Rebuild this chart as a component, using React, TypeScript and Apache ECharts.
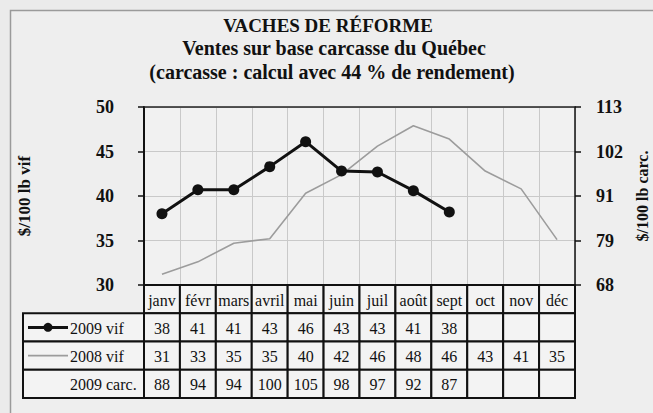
import React, { useEffect, useRef } from "react";
import * as echarts from "echarts";

const months = ["janv", "févr", "mars", "avril", "mai", "juin", "juil", "août", "sept", "oct", "nov", "déc"];
const vif2009 = [38.0, 40.7, 40.7, 43.3, 46.1, 42.8, 42.7, 40.6, 38.2];
const vif2008 = [31.2, 32.6, 34.7, 35.2, 40.3, 42.4, 45.6, 47.9, 46.4, 42.8, 40.8, 35.1];
const table2009vif = ["38", "41", "41", "43", "46", "43", "43", "41", "38"];
const table2008vif = ["31", "33", "35", "35", "40", "42", "46", "48", "46", "43", "41", "35"];
const table2009carc = ["88", "94", "94", "100", "105", "98", "97", "92", "87"];
const rowNames = ["", "2009 vif", "2008 vif", "2009 carc."];
const leftMin = 30;
const leftMax = 50;
const leftStep = 5;
const carcMin = 68;
const carcMax = 113;

const SERIF = "'Liberation Serif', 'Times New Roman', serif";

export default function App() {
  const ref = useRef<HTMLDivElement>(null);
  useEffect(() => {
    if (!ref.current) return;
    const chart = echarts.init(ref.current, null, { renderer: "svg" });

    const rows = [months, table2009vif, table2008vif, table2009carc];
    const cells: { i: number; r: number; t: string }[] = [];
    rows.forEach((row, r) => {
      for (let i = 0; i < months.length; i++) {
        cells.push({ i, r, t: row[i] ?? "" });
      }
    });

    const toCarc = (v: number) => Math.round(carcMin + ((v - leftMin) * (carcMax - carcMin)) / (leftMax - leftMin));

    const option: any = {
      animation: false,
      backgroundColor: "#ebebeb",
      graphic: [
        {
          type: "rect",
          shape: { x: 10.5, y: 10.5, width: 700, height: 500 },
          style: { fill: "#eeeeee", stroke: "#9a9a9a", lineWidth: 1.5 },
          z: -10,
        },
        {
          type: "text",
          x: 328,
          y: 25,
          style: { text: "VACHES DE RÉFORME", font: `bold 19px ${SERIF}`, fill: "#111", align: "center", verticalAlign: "middle" },
        },
        {
          type: "text",
          x: 334,
          y: 48,
          style: { text: "Ventes sur base carcasse du Québec", font: `bold 20px ${SERIF}`, fill: "#111", align: "center", verticalAlign: "middle" },
        },
        {
          type: "text",
          x: 332,
          y: 72,
          style: { text: "(carcasse : calcul avec 44 % de rendement)", font: `bold 20px ${SERIF}`, fill: "#111", align: "center", verticalAlign: "middle" },
        },
      ],
      grid: [
        { left: 144, top: 107, width: 431, height: 178, show: true, backgroundColor: "#f1f1f1", borderWidth: 0, outerBoundsMode: "none", containLabel: false },
        { left: 144, top: 285, width: 431, height: 113, show: false, outerBoundsMode: "none", containLabel: false },
      ],
      xAxis: [
        {
          type: "category",
          gridIndex: 0,
          data: months,
          boundaryGap: true,
          axisLine: { lineStyle: { color: "#111", width: 2 } },
          axisTick: { show: false },
          axisLabel: { show: false },
          splitLine: { show: true, lineStyle: { color: "#c9c9c9", width: 1 } },
        },
        {
          type: "category",
          gridIndex: 1,
          data: months,
          boundaryGap: true,
          axisLine: { show: false },
          axisTick: { show: false },
          axisLabel: { show: false },
          splitLine: { show: false },
        },
        {
          type: "category",
          gridIndex: 0,
          position: "top",
          data: months,
          axisLine: { lineStyle: { color: "#222", width: 1.5 } },
          axisTick: { show: false },
          axisLabel: { show: false },
          splitLine: { show: false },
        },
      ],
      yAxis: [
        {
          type: "value",
          gridIndex: 0,
          position: "left",
          min: leftMin,
          max: leftMax,
          interval: leftStep,
          axisLine: { show: true, lineStyle: { color: "#111", width: 2 } },
          axisTick: { show: true, inside: false, length: 6, lineStyle: { color: "#111", width: 1.5 } },
          axisLabel: { margin: 30, color: "#111", fontFamily: SERIF, fontWeight: "bold", fontSize: 18 },
          splitLine: { show: true, lineStyle: { color: "#c9c9c9", width: 1 } },
          name: "$/100 lb vif",
          nameLocation: "middle",
          nameRotate: 90,
          nameGap: 111,
          nameTextStyle: { color: "#111", fontFamily: SERIF, fontWeight: "bold", fontSize: 17 },
        },
        {
          type: "value",
          gridIndex: 0,
          position: "right",
          min: leftMin,
          max: leftMax,
          interval: leftStep,
          axisLine: { show: true, lineStyle: { color: "#111", width: 1.5 } },
          axisTick: { show: true, inside: false, length: 6, lineStyle: { color: "#111", width: 1.5 } },
          axisLabel: {
            margin: 21,
            color: "#111",
            fontFamily: SERIF,
            fontWeight: "bold",
            fontSize: 18,
            formatter: (v: number) => String(toCarc(v)),
          },
          splitLine: { show: false },
          name: "$/100 lb carc.",
          nameLocation: "middle",
          nameRotate: 90,
          nameGap: 59,
          nameTextStyle: { color: "#111", fontFamily: SERIF, fontWeight: "bold", fontSize: 16 },
        },
        {
          type: "category",
          gridIndex: 1,
          data: rowNames,
          inverse: true,
          axisLine: { show: false },
          axisTick: { show: false },
          axisLabel: { show: false },
          splitLine: { show: false },
        },
      ],
      series: [
        {
          name: "2008 vif",
          type: "line",
          xAxisIndex: 0,
          yAxisIndex: 0,
          data: vif2008,
          symbol: "none",
          lineStyle: { color: "#9c9c9c", width: 1.6 },
          z: 3,
        },
        {
          name: "2009 vif",
          type: "line",
          xAxisIndex: 0,
          yAxisIndex: 0,
          data: vif2009,
          symbol: "circle",
          symbolSize: 11,
          itemStyle: { color: "#111" },
          lineStyle: { color: "#111", width: 3 },
          z: 4,
        },
        {
          name: "table",
          type: "custom",
          xAxisIndex: 1,
          yAxisIndex: 2,
          clip: false,
          data: cells.map((c) => [c.i, c.r]),
          encode: { x: 0, y: 1 },
          renderItem: (params: any, api: any) => {
            const i = api.value(0);
            const r = api.value(1);
            const c = api.coord([i, r]);
            const s = api.size([1, 1]);
            const cell = cells[params.dataIndex];
            return {
              type: "group",
              children: [
                {
                  type: "rect",
                  shape: { x: c[0] - s[0] / 2, y: c[1] - s[1] / 2, width: s[0], height: s[1] },
                  style: { fill: "#f3f3f3", stroke: "#111", lineWidth: 2 },
                },
                {
                  type: "text",
                  style: {
                    text: cell.t,
                    x: c[0],
                    y: c[1] + 1,
                    align: "center",
                    verticalAlign: "middle",
                    font: `16px ${SERIF}`,
                    fill: "#111",
                  },
                },
              ],
            };
          },
          z: 5,
        },
        {
          name: "rowheads",
          type: "custom",
          xAxisIndex: 1,
          yAxisIndex: 2,
          clip: false,
          data: [[0, 1], [0, 2], [0, 3]],
          encode: { x: 0, y: 1 },
          renderItem: (params: any, api: any) => {
            const r = api.value(1);
            const c = api.coord([0, r]);
            const s = api.size([1, 1]);
            const right = params.coordSys.x;
            const x0 = right - 121;
            const y0 = c[1] - s[1] / 2;
            const ym = c[1];
            const children: any[] = [
              {
                type: "rect",
                shape: { x: x0, y: y0, width: right - x0, height: s[1] },
                style: { fill: "#f3f3f3", stroke: "#111", lineWidth: 2 },
              },
            ];
            if (r === 1) {
              children.push({
                type: "line",
                shape: { x1: x0 + 5, y1: ym, x2: x0 + 45, y2: ym },
                style: { stroke: "#111", lineWidth: 3 },
              });
              children.push({
                type: "circle",
                shape: { cx: x0 + 25, cy: ym, r: 4.5 },
                style: { fill: "#111" },
              });
            } else if (r === 2) {
              children.push({
                type: "line",
                shape: { x1: x0 + 5, y1: ym, x2: x0 + 45, y2: ym },
                style: { stroke: "#9c9c9c", lineWidth: 1.6 },
              });
            }
            children.push({
              type: "text",
              style: {
                text: rowNames[r],
                x: x0 + 47,
                y: ym + 1,
                align: "left",
                verticalAlign: "middle",
                font: `16px ${SERIF}`,
                fill: "#111",
              },
            });
            return { type: "group", children };
          },
          z: 5,
        },
      ],
    };

    chart.setOption(option);
    return () => chart.dispose();
  }, []);

  return <div ref={ref} style={{ position: "fixed", left: 0, top: 0, width: 653, height: 413 }} />;
}
